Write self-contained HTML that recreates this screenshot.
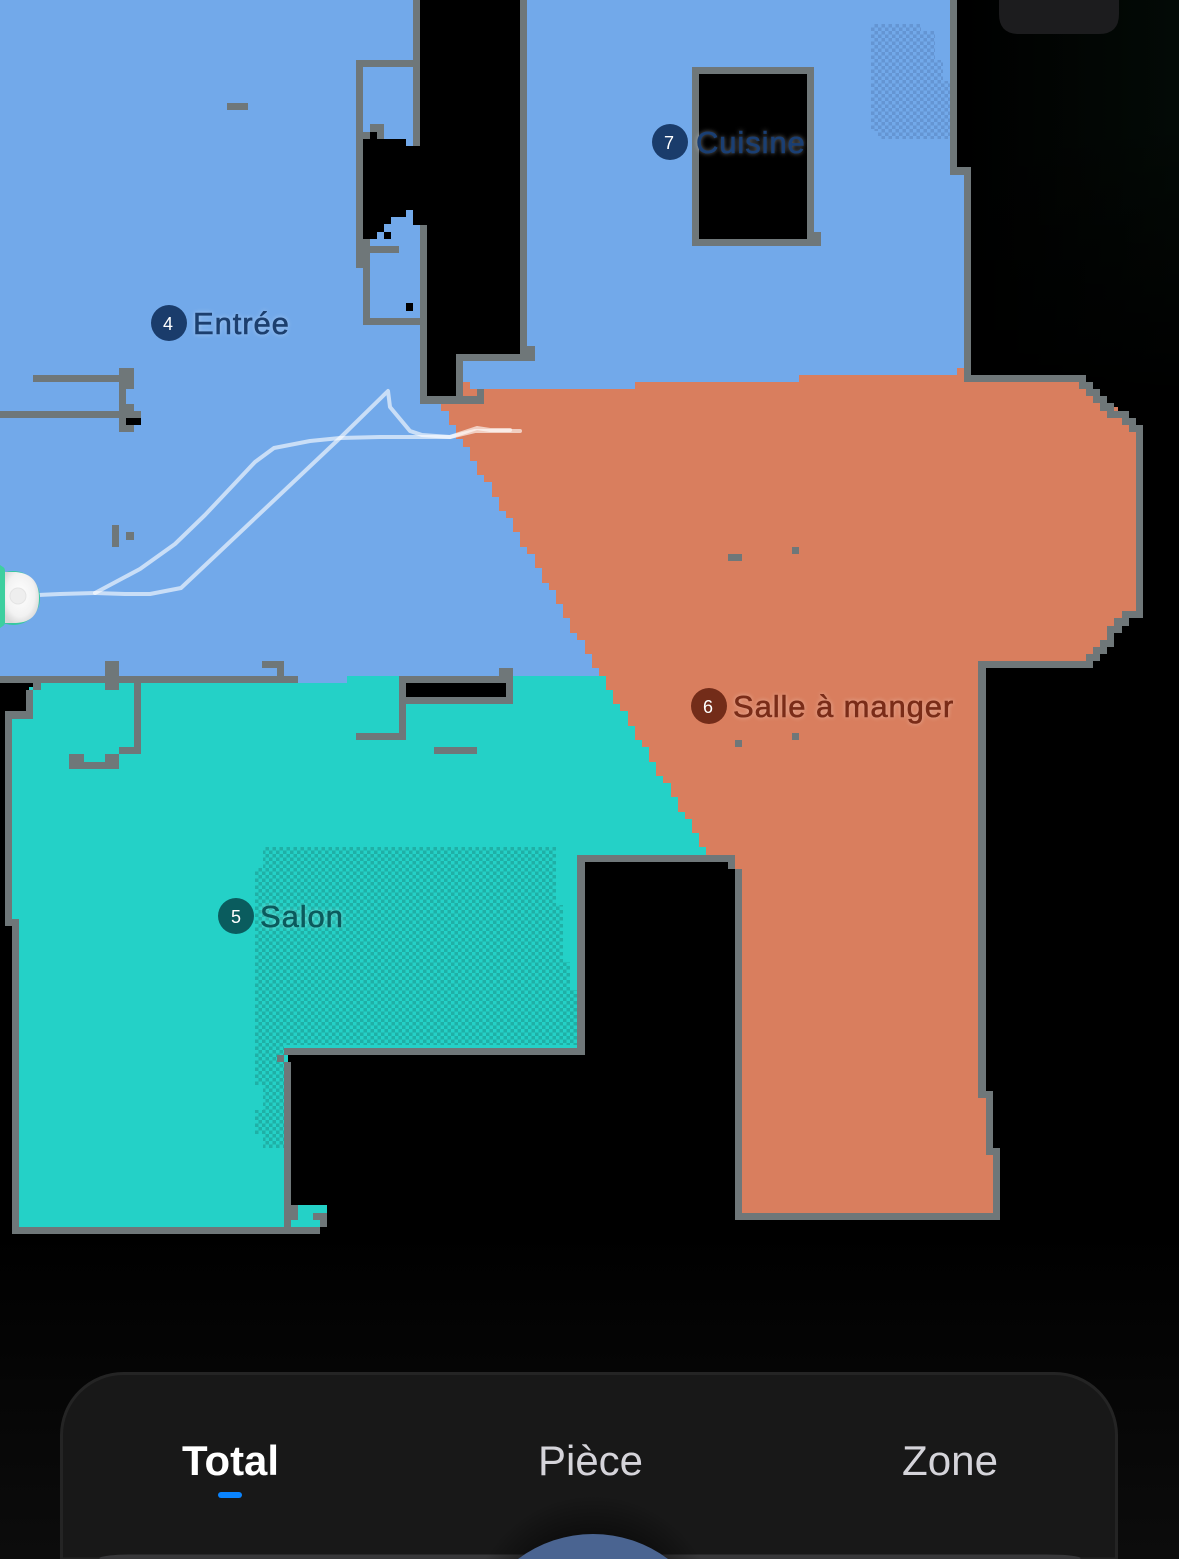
<!DOCTYPE html>
<html><head><meta charset="utf-8">
<style>
html,body{margin:0;padding:0;background:#000;width:1179px;height:1559px;overflow:hidden}
#s{position:relative;width:1179px;height:1559px;overflow:hidden;background:#000;font-family:"Liberation Sans",sans-serif}
svg{position:absolute;left:0;top:0;display:block}
.l{position:absolute;font-size:31px;line-height:36px;letter-spacing:.9px;white-space:nowrap;-webkit-text-stroke:.6px currentColor;text-shadow:0 0 5px rgba(255,255,255,.5)}
</style></head><body><div id="s">
<svg width="1179" height="1559" viewBox="0 0 1179 1559" xmlns="http://www.w3.org/2000/svg">
<defs>
<linearGradient id="tr" x1="0" y1="0" x2="1" y2="0"><stop offset="0" stop-color="#000"/><stop offset="1" stop-color="#030a06"/></linearGradient>
<linearGradient id="tr2" x1="0" y1="0" x2="0" y2="1"><stop offset="0" stop-color="#000" stop-opacity="0"/><stop offset="1" stop-color="#000"/></linearGradient>
<linearGradient id="bt" x1="0" y1="0" x2="0" y2="1"><stop offset="0" stop-color="#000"/><stop offset="1" stop-color="#0c0c0c"/></linearGradient>
<pattern id="hb" width="7" height="7" patternUnits="userSpaceOnUse" x="871" y="24"><rect x="0" y="3.5" width="3.5" height="3.5" fill="#6495d3"/><rect x="3.5" y="0" width="3.5" height="3.5" fill="#6495d3"/></pattern>
<pattern id="ht" width="7" height="7" patternUnits="userSpaceOnUse" x="255" y="847"><rect x="0" y="3.5" width="3.5" height="3.5" fill="#1fb0a6"/><rect x="3.5" y="0" width="3.5" height="3.5" fill="#1fb0a6"/></pattern>
<radialGradient id="rb" cx=".45" cy=".45" r=".6"><stop offset="0" stop-color="#fff"/><stop offset=".7" stop-color="#f2f2f2"/><stop offset="1" stop-color="#d8d8d8"/></radialGradient>
<radialGradient id="gl" cx="593" cy="1620" r="125" gradientUnits="userSpaceOnUse"><stop offset=".6" stop-color="#000" stop-opacity=".55"/><stop offset="1" stop-color="#000" stop-opacity="0"/></radialGradient>
<clipPath id="rc"><rect x="5" y="560" width="40" height="70"/></clipPath>
<clipPath id="pc"><rect x="0" y="1372" width="1179" height="187"/></clipPath>
</defs>

<rect x="960" y="0" width="219" height="400" fill="url(#tr)"/>
<rect x="960" y="120" width="219" height="280" fill="url(#tr2)"/>
<rect x="0" y="1230" width="1179" height="329" fill="url(#bt)"/>

<g shape-rendering="crispEdges">
<!-- blue -->
<polygon fill="#72a9ea" points="0,0 953,0 953,171 967,171 967,683 0,683"/>
<polygon fill="url(#hb)" points="871,24 921,24 921,31 935,31 935,60 943,60 943,81 950,81 950,139 878,139 878,131 871,131"/>
<!-- teal -->
<polygon fill="#24d1c7" points="37,683 347,683 347,676 610,676 720,860 581,860 581,1052 288,1052 288,1230 15,1230 15,922 8,922 8,715 29,715 29,687 37,687"/>
<rect x="291" y="1220" width="29" height="8" fill="#24d1c7"/>
<rect x="298" y="1205" width="29" height="8" fill="#24d1c7"/>
<rect x="298" y="1213" width="15" height="7" fill="#24d1c7"/>
<polygon fill="url(#ht)" points="263,847 556,847 556,905 563,905 563,962 570,962 570,990 577,990 577,1045 284,1045 284,1148 263,1148 263,1134 255,1134 255,1110 263,1110 263,1085 255,1085 255,868 263,868"/>
<!-- orange -->
<polygon fill="#d97e5e" points="441,400 460,400 460,382 470,382 470,389 635,389 635,382 799,382 799,375 957,375 957,368 967,368 967,378 1083,378 1083,385 1090,385 1090,392 1097,392 1097,399 1104,399 1104,407 1118,407 1118,414 1125,414 1125,421 1132,421 1132,428 1139,428 1139,615 1125,615 1125,622 1118,622 1118,629 1111,629 1111,643 1104,643 1104,650 1097,650 1097,657 1090,657 1090,664 982,664 982,1095 990,1095 990,1152 997,1152 997,1217 738,1217 738,869 735,869 735,858 706,858
706,847 699,847 699,833 692,833 692,819 685,819 685,812 678,812 678,797 671,797 671,783 663,783 663,776 656,776 656,762 649,762 649,747 642,747 642,740 635,740 635,726 628,726 628,711 620,711 620,704 613,704 613,690 606,690 606,676 599,676 599,668 592,668 592,654 585,654 585,640 577,640 577,633 570,633 570,618 563,618 563,604 556,604 556,590 549,590 549,583 542,583 542,568 535,568 535,554 527,554 527,547 520,547 520,532 513,532 513,518 506,518 506,511 499,511 499,497 492,497 492,482 484,482 484,475 477,475 477,461 470,461 470,447 463,447 463,439 456,439 456,425 449,425 449,411 441,411"/>
<!-- black holes -->
<polygon fill="#000" points="420,0 520,0 520,354 456,354 456,396 427,396 427,225 413,225 413,210 406,210 406,217 391,217 391,224 384,224 384,232 377,232 377,239 363,239 363,139 370,139 370,132 377,132 377,139 406,139 406,146 420,146"/>
<rect x="699" y="74" width="108" height="165" fill="#000"/>
<rect x="406" y="683" width="100" height="14" fill="#000"/>
<rect x="384" y="232" width="7" height="7" fill="#000"/>
<rect x="406" y="303" width="7" height="8" fill="#000"/>
<rect x="126" y="418" width="15" height="7" fill="#000"/>
<!-- walls -->
<g fill="#6f7779">
<rect x="413" y="0" width="7" height="146"/><rect x="520" y="0" width="7" height="361"/>
<rect x="356" y="60" width="57" height="7"/><rect x="356" y="60" width="7" height="208"/>
<rect x="370" y="124" width="14" height="8"/><rect x="363" y="132" width="7" height="7"/><rect x="377" y="132" width="7" height="7"/>
<rect x="356" y="239" width="14" height="29"/><rect x="363" y="246" width="36" height="7"/><rect x="363" y="246" width="7" height="79"/>
<rect x="363" y="318" width="57" height="7"/><rect x="420" y="225" width="7" height="179"/>
<rect x="420" y="396" width="64" height="8"/><rect x="477" y="389" width="7" height="7"/>
<rect x="456" y="354" width="79" height="7"/><rect x="456" y="354" width="7" height="42"/><rect x="520" y="346" width="15" height="15"/>
<rect x="692" y="67" width="122" height="7"/><rect x="692" y="67" width="7" height="179"/><rect x="807" y="67" width="7" height="179"/><rect x="692" y="239" width="129" height="7"/><rect x="814" y="232" width="7" height="14"/>
<rect x="950" y="0" width="7" height="175"/><rect x="950" y="167" width="21" height="8"/><rect x="964" y="167" width="7" height="215"/>
<rect x="964" y="375" width="122" height="7"/>
<rect x="1079" y="382" width="14" height="7"/><rect x="1086" y="389" width="14" height="7"/><rect x="1093" y="396" width="14" height="7"/><rect x="1100" y="403" width="14" height="8"/><rect x="1107" y="411" width="22" height="7"/><rect x="1122" y="418" width="14" height="7"/><rect x="1129" y="425" width="14" height="7"/>
<rect x="1136" y="425" width="7" height="193"/><rect x="1122" y="611" width="21" height="7"/><rect x="1114" y="618" width="15" height="8"/><rect x="1107" y="626" width="15" height="7"/><rect x="1107" y="633" width="7" height="7"/><rect x="1100" y="640" width="14" height="7"/><rect x="1093" y="647" width="14" height="7"/><rect x="1086" y="654" width="14" height="7"/>
<rect x="978" y="661" width="115" height="7"/><rect x="978" y="661" width="8" height="437"/><rect x="978" y="1091" width="15" height="7"/><rect x="986" y="1091" width="7" height="64"/><rect x="986" y="1148" width="14" height="7"/><rect x="993" y="1148" width="7" height="72"/>
<rect x="735" y="1213" width="265" height="7"/><rect x="735" y="869" width="7" height="351"/>
<rect x="577" y="855" width="158" height="7"/><rect x="728" y="855" width="7" height="14"/>
<rect x="577" y="855" width="8" height="200"/><rect x="284" y="1048" width="301" height="7"/><rect x="277" y="1055" width="7" height="7"/><rect x="284" y="1062" width="7" height="172"/>
<rect x="284" y="1205" width="14" height="15"/><rect x="313" y="1213" width="14" height="7"/><rect x="320" y="1213" width="7" height="14"/>
<rect x="12" y="1227" width="308" height="7"/><rect x="12" y="919" width="7" height="315"/><rect x="5" y="919" width="14" height="7"/><rect x="5" y="711" width="7" height="215"/><rect x="5" y="711" width="28" height="8"/><rect x="26" y="690" width="7" height="29"/><rect x="33" y="683" width="8" height="7"/>
<rect x="0" y="676" width="298" height="7"/><rect x="105" y="661" width="14" height="29"/><rect x="262" y="661" width="22" height="7"/><rect x="277" y="661" width="7" height="15"/>
<rect x="134" y="683" width="7" height="71"/><rect x="119" y="747" width="22" height="7"/><rect x="105" y="754" width="14" height="15"/><rect x="69" y="754" width="15" height="15"/><rect x="69" y="762" width="50" height="7"/>
<rect x="399" y="676" width="114" height="7"/><rect x="399" y="697" width="114" height="7"/><rect x="399" y="676" width="7" height="64"/><rect x="506" y="676" width="7" height="28"/><rect x="499" y="668" width="14" height="8"/><rect x="356" y="733" width="50" height="7"/><rect x="434" y="747" width="43" height="7"/>
<rect x="33" y="375" width="93" height="7"/><rect x="119" y="368" width="15" height="21"/><rect x="119" y="389" width="7" height="43"/><rect x="0" y="411" width="141" height="7"/><rect x="126" y="404" width="8" height="7"/><rect x="119" y="425" width="15" height="7"/>
<rect x="227" y="103" width="21" height="7"/><rect x="112" y="525" width="7" height="22"/><rect x="126" y="532" width="8" height="8"/>
<rect x="728" y="554" width="14" height="7"/><rect x="792" y="547" width="7" height="7"/><rect x="735" y="740" width="7" height="7"/><rect x="792" y="733" width="7" height="7"/>
</g>
</g>

<!-- path -->
<g fill="none" stroke="#fff" stroke-opacity=".62" stroke-width="4" stroke-linejoin="round" stroke-linecap="round">
<polyline points="38,595 60,594 95,593 140,569 175,544 205,515 255,462 274,448 310,441 340,438 380,437 450,437 475,431 490,431 520,431"/>
<polyline points="95,593 125,594 150,594 181,588 215,556 340,438 388,391 390,407 410,431 422,435 450,437 462,433 477,428 490,430 510,430"/>
</g>

<!-- robot -->
<g clip-path="url(#rc)"><circle cx="13" cy="598" r="27" fill="#35c9a0"/><path d="M5,572 H16 Q39,574 39,598 Q39,622 16,623 H5 Z" fill="url(#rb)"/></g>
<path d="M0,565 L3,567 Q5,568 5,571 L5,622 Q5,625 3,626 L0,628 Z" fill="#3dcf9f"/>
<circle cx="18" cy="596" r="8" fill="#eeeeee" stroke="#e4e4e4"/>

<!-- badges -->
<g font-family="'Liberation Sans',sans-serif" font-size="18" fill="#fff" text-anchor="middle">
<circle cx="169" cy="323" r="18" fill="#1a3c6b"/><text x="168" y="330">4</text>
<circle cx="670" cy="142" r="18" fill="#1a3c6b"/><text x="669" y="149">7</text>
<circle cx="236" cy="916" r="18" fill="#0a5c5e"/><text x="236" y="923">5</text>
<circle cx="709" cy="706" r="18" fill="#732c19"/><text x="708" y="713">6</text>
</g>

<!-- notch -->
<path d="M999,0 H1119 V14 Q1119,34 1099,34 H1019 Q999,34 999,14 Z" fill="#1c1c1e"/>

<!-- panel -->
<path d="M61.5,1559 V1435 A62,62 0 0 1 123.5,1373.5 H1054.5 A62,62 0 0 1 1116.5,1435 V1559 Z" fill="#181818" stroke="#242424" stroke-width="3"/>
<path d="M100,1559 Q108,1556 134,1556 H1046 Q1072,1556 1080,1559 Z" fill="#1c1c1e" stroke="#38383a" stroke-width="3"/>
<path d="M468,1559 A125,125 0 0 1 718,1559 Z" fill="url(#gl)"/>
<path d="M518,1559 A125,125 0 0 1 668,1559 Z" fill="#4a6491"/>
<g font-family="'Liberation Sans',sans-serif" text-anchor="start">
<text x="182" y="1475" font-size="42" font-weight="700" fill="#fff" textLength="97" lengthAdjust="spacingAndGlyphs">Total</text>
<text x="538" y="1475" font-size="42" fill="#d5d4da" textLength="105" lengthAdjust="spacingAndGlyphs">Pièce</text>
<text x="902" y="1475" font-size="42" fill="#d5d4da" textLength="96" lengthAdjust="spacingAndGlyphs">Zone</text>
</g>
<rect x="218" y="1492" width="24" height="6" rx="3" fill="#0a84ff"/>
</svg>
<div class="l" style="left:193px;top:306px;color:#1c3f6e">Entrée</div>
<div class="l" style="left:696px;top:125px;color:#1a3f73">Cuisine</div>
<div class="l" style="left:260px;top:899px;color:#0b5a5c">Salon</div>
<div class="l" style="left:733px;top:689px;color:#7a2c18">Salle à manger</div>
</div></body></html>
